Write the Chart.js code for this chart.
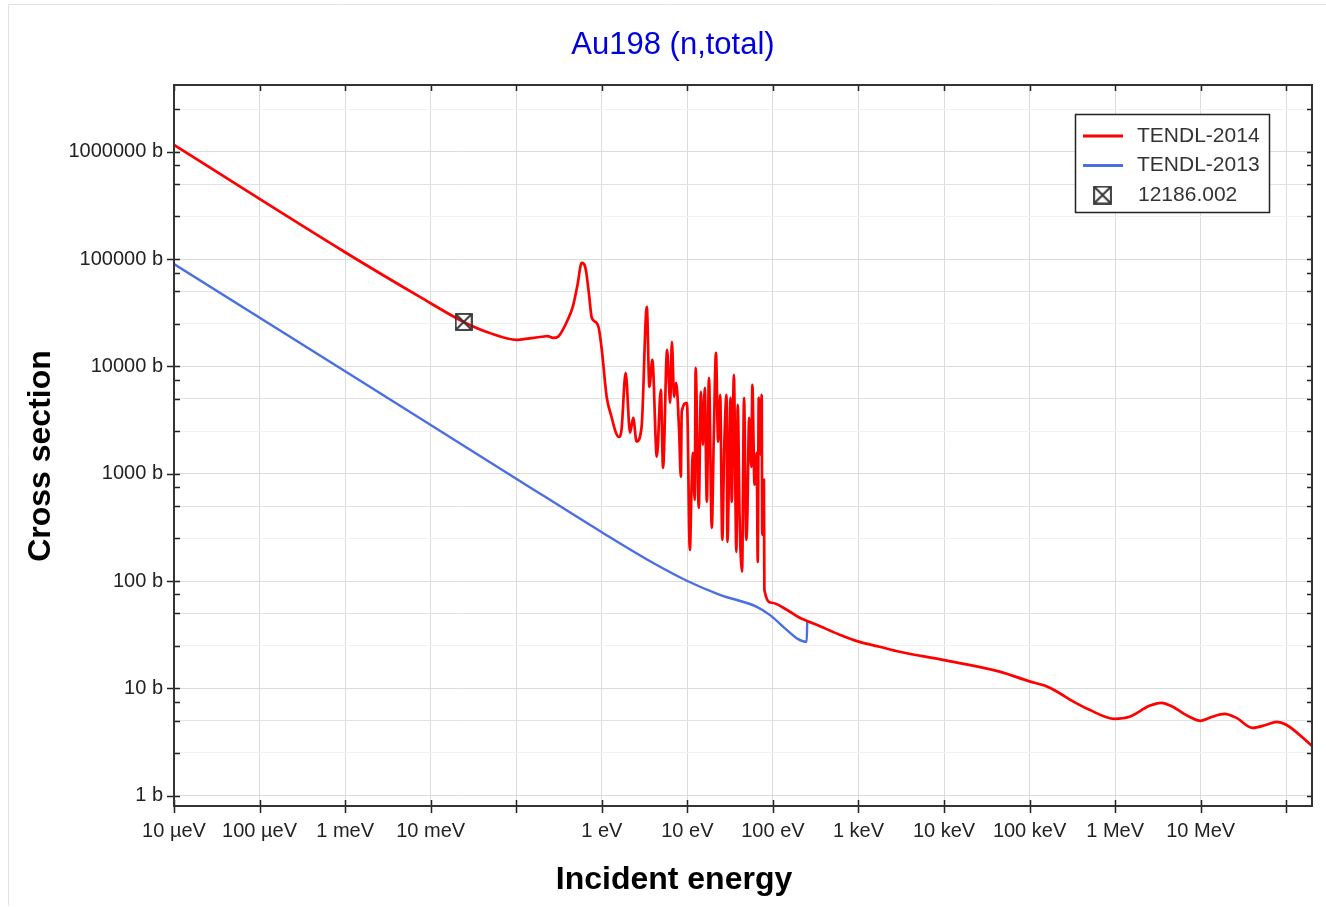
<!DOCTYPE html>
<html>
<head>
<meta charset="utf-8">
<title>Au198 (n,total)</title>
<script src="https://cdn.jsdelivr.net/npm/chart.js@4.4.1/dist/chart.umd.min.js"></script>
<style>
  html, body { margin: 0; padding: 0; background: #fff; }
  #wrap { width: 1326px; height: 907px; }
</style>
</head>
<body>
<div id="wrap"><canvas id="xsChart" width="1326" height="907"></canvas></div>
<script>
// TENDL-2014 total cross section: energy (eV) / sigma (b)
const tendl2014Energy = [
  1e-5, 1e-3, 0.00748, 0.0243, 0.049, 0.1016, 0.144, 0.199, 0.233, 0.27, 0.31, 0.35, 0.40, 0.458, 0.52,
  0.583, 0.63, 0.66, 0.71, 0.764, 0.87, 0.92, 1.0, 1.14, 1.3, 1.45, 1.58, 1.7, 1.9, 2.14, 2.33, 2.55,
  2.92, 3.36, 3.6, 3.9, 4.4, 4.9, 5.2, 5.8, 6.3, 6.6, 7.0, 7.4, 8.0, 8.4, 8.6, 9.9,
  10.7, 11.2, 11.6, 12.2, 12.5, 13.6, 14.4, 15.2, 16.0, 16.9, 17.9, 19.3, 20.4, 21.6, 22.9, 24.2,
  25.6, 27.0, 28.7, 29.4, 32.0, 33.0, 35.0, 37.4, 38.8, 40.9, 43.6, 46.0, 48.8, 50.1, 52.8, 56,
  57.5, 61, 64.7, 66.5, 68.3, 70, 71.9, 74, 75, 76.5, 78.5, 79.5,
  96.9, 145, 206, 325, 603, 1030, 1770, 3030, 9640, 44700, 1e5, 1.5e5, 2.2e5, 3e5, 5.02e5, 9.84e5,
  1.47e6, 2.52e6, 3.48e6, 4.69e6, 7.4e6, 1e7, 1.36e7, 1.9e7, 2.62e7, 4.03e7, 5.87e7, 7.69e7, 1e8, 2e8
];
const tendl2014Xs = [
  1.16e6, 1.16e5, 44500, 26000, 20500, 17700, 18300, 18900, 19200, 18500, 19000, 21900, 27200, 35900, 57500,
  92500, 88000, 74500, 46500, 28400, 25500, 22900, 14300, 5220, 3390, 2460, 2200, 2570, 8720, 2420, 3320, 1990,
  2740, 35900, 6460, 11500, 1440, 6060, 1135, 14300, 4580, 16950, 5220, 7040, 2570, 935, 3780, 4580,
  195, 740, 1565, 570, 9700, 481, 5800, 1860, 6320, 547, 7830, 313, 2300, 13400, 1990, 5430,
  242, 1780, 5430, 232, 5100, 547, 8350, 187, 4390, 356, 122, 5100, 242, 356, 3320, 1160,
  6740, 790, 1565, 151, 5100, 3700, 1500, 5430, 270, 610, 877, 82.8,
  62.7, 54, 45.4, 39.1, 31.6, 27.1, 24.4, 21.9, 18.4, 14.3, 11.6, 10.6, 9.1, 7.8, 6.3, 5.2,
  5.43, 6.87, 7.33, 6.73, 5.43, 4.98, 5.43, 5.78, 5.3, 4.28, 4.58, 4.87, 4.58, 2.91
];

// TENDL-2013 total cross section
const tendl2013Energy = [1e-5, 1e-3, 0.1, 1, 4, 10, 24, 64.7, 91.8, 145, 195, 248, 252];
const tendl2013Xs = [90000, 9000, 900, 285, 147, 100, 74.4, 57.5, 48.4, 35.1, 28.9, 27.1, 41.7];

// EXFOR point 12186.002
const exforEnergy = [0.0243];
const exforXs = [26000];

// axis ticks
const xTickValues = [1e-5, 1e-4, 1e-3, 1e-2, 1e-1, 1, 10, 100, 1e3, 1e4, 1e5, 1e6, 1e7, 1e8];
const xTickLabels = ['10 µeV', '100 µeV', '1 meV', '10 meV', '', '1 eV', '10 eV', '100 eV',
  '1 keV', '10 keV', '100 keV', '1 MeV', '10 MeV', ''];
const yDecades = [1, 10, 100, 1000, 10000, 100000, 1000000];
const yDecadeLabels = ['1 b', '10 b', '100 b', '1000 b', '10000 b', '100000 b', '1000000 b'];
const yMinorSteps = [2.5, 5, 7.5];

const X_MIN = 1e-5, X_MAX = 2e8, Y_MIN = 0.8, Y_MAX = 4.2e6;
const FONT = "'Liberation Sans', Arial, sans-serif";

function toPoints(xs, ys) {
  return xs.map((x, i) => ({ x: x, y: ys[i] }));
}

// boxed cross marker used for the experimental point
function boxCross(size) {
  const c = document.createElement('canvas');
  c.width = size; c.height = size;
  const g = c.getContext('2d');
  g.strokeStyle = '#333';
  g.lineWidth = 1.8;
  g.strokeRect(1, 1, size - 2, size - 2);
  g.beginPath();
  g.moveTo(2, 2); g.lineTo(size - 2, size - 2);
  g.moveTo(size - 2, 2); g.lineTo(2, size - 2);
  g.stroke();
  return c;
}
const markerImg = boxCross(18);

const yTickValues = [];
yDecades.forEach(d => {
  yTickValues.push(d);
  yMinorSteps.forEach(m => yTickValues.push(d * m));
});
const yTicksInRange = yTickValues.filter(v => v >= Y_MIN && v <= Y_MAX).sort((a, b) => a - b);

function mantissa(v) {
  return v / Math.pow(10, Math.floor(Math.log10(v) + 1e-9));
}

// titles, frame, tick marks on all four sides and the legend box
const framePlugin = {
  id: 'framePlugin',
  afterDraw(chart) {
    const { ctx, chartArea: a, scales } = chart;
    ctx.save();

    // outer light frame
    ctx.strokeStyle = '#e4e4e4';
    ctx.lineWidth = 1;
    ctx.beginPath();
    ctx.moveTo(8.5, 906); ctx.lineTo(8.5, 4.5); ctx.lineTo(1326, 4.5);
    ctx.stroke();

    // titles
    ctx.textAlign = 'center';
    ctx.textBaseline = 'middle';
    ctx.fillStyle = '#0000dd';
    ctx.font = '31px ' + FONT;
    ctx.fillText('Au198 (n,total)', 673, 45);
    ctx.fillStyle = '#000';
    ctx.font = 'bold 32px ' + FONT;
    ctx.fillText('Incident energy', 674, 880);
    ctx.save();
    ctx.translate(41, 456);
    ctx.rotate(-Math.PI / 2);
    ctx.fillText('Cross section', 0, 0);
    ctx.restore();

    ctx.strokeStyle = '#222';
    ctx.lineWidth = 1.5;
    xTickValues.forEach(v => {
      const px = Math.round(scales.x.getPixelForValue(v)) + 0.5;
      if (px < a.left || px > a.right) return;
      ctx.beginPath();
      ctx.moveTo(px, a.bottom - 6); ctx.lineTo(px, a.bottom + 7);
      ctx.moveTo(px, a.top); ctx.lineTo(px, a.top + 6);
      ctx.stroke();
    });
    yTicksInRange.forEach(v => {
      const py = Math.round(scales.y.getPixelForValue(v)) + 0.5;
      const major = Math.abs(mantissa(v) - 1) < 1e-6;
      ctx.beginPath();
      ctx.moveTo(major ? a.left - 7 : a.left, py); ctx.lineTo(a.left + 6, py);
      ctx.moveTo(a.right - 5, py); ctx.lineTo(a.right, py);
      ctx.stroke();
    });

    ctx.strokeStyle = '#333';
    ctx.lineWidth = 2;
    ctx.strokeRect(a.left, a.top, a.right - a.left, a.bottom - a.top);

    // legend
    const lx = 1075, ly = 114, lw = 194, lh = 98;
    ctx.fillStyle = '#fff';
    ctx.fillRect(lx, ly, lw, lh);
    ctx.strokeStyle = '#222';
    ctx.lineWidth = 1.5;
    ctx.strokeRect(lx + 0.5, ly + 0.5, lw, lh);
    ctx.font = '21px ' + FONT;
    ctx.textBaseline = 'middle';
    ctx.textAlign = 'left';
    const ds = chart.data.datasets;
    const rows = [ds[1], ds[2], ds[0]];
    rows.forEach((d, i) => {
      const cy = ly + 22 + i * 29.5;
      if (d.showLine === false) {
        ctx.drawImage(markerImg, lx + 18, cy - 9.5, 19, 19);
        ctx.fillStyle = '#333';
        ctx.fillText(d.label, lx + 63, cy);
      } else {
        ctx.strokeStyle = d.borderColor;
        ctx.lineWidth = 3;
        ctx.beginPath();
        ctx.moveTo(lx + 8, cy); ctx.lineTo(lx + 48, cy);
        ctx.stroke();
        ctx.fillStyle = '#333';
        ctx.fillText(d.label, lx + 62, cy);
      }
    });
    ctx.restore();
  }
};

new Chart(document.getElementById('xsChart'), {
  type: 'line',
  data: {
    datasets: [
      {
        label: '12186.002',
        data: toPoints(exforEnergy, exforXs),
        showLine: false,
        pointStyle: markerImg,
        pointRadius: 9,
        borderColor: '#333'
      },
      {
        label: 'TENDL-2014',
        data: toPoints(tendl2014Energy, tendl2014Xs),
        borderColor: '#ff0000',
        borderWidth: 2.7,
        pointRadius: 0,
        cubicInterpolationMode: 'monotone'
      },
      {
        label: 'TENDL-2013',
        data: toPoints(tendl2013Energy, tendl2013Xs),
        borderColor: '#4a6fe3',
        borderWidth: 2.4,
        pointRadius: 0,
        cubicInterpolationMode: 'monotone'
      }
    ]
  },
  options: {
    responsive: false,
    animation: false,
    parsing: false,
    layout: { padding: { top: 85, left: 0, right: 14, bottom: 0 } },
    scales: {
      x: {
        type: 'logarithmic',
        position: 'bottom',
        min: X_MIN,
        max: X_MAX,
        afterBuildTicks: axis => { axis.ticks = xTickValues.map(v => ({ value: v })); },
        afterFit: axis => { axis.height = 101; },
        ticks: {
          autoSkip: false,
          maxRotation: 0,
          minRotation: 0,
          padding: 13,
          color: '#222',
          font: { family: FONT, size: 20 },
          callback: (v, i) => xTickLabels[i]
        },
        grid: { color: '#dcdcdc', drawTicks: false },
        border: { display: false }
      },
      y: {
        type: 'logarithmic',
        min: Y_MIN,
        max: Y_MAX,
        afterBuildTicks: axis => { axis.ticks = yTicksInRange.map(v => ({ value: v })); },
        afterFit: axis => { axis.width = 174; },
        ticks: {
          autoSkip: false,
          padding: 11,
          color: '#222',
          font: { family: FONT, size: 20 },
          callback: v => {
            const i = yDecades.findIndex(d => Math.abs(d - v) < d * 1e-6);
            return i >= 0 ? yDecadeLabels[i] : '';
          }
        },
        grid: {
          drawTicks: false,
          color: c => {
            const m = mantissa(c.tick.value);
            if (Math.abs(m - 1) < 1e-6) return '#dcdcdc';
            if (Math.abs(m - 5) < 1e-6) return '#e2e2e2';
            if (Math.abs(m - 2.5) < 1e-6) return '#f0f0f0';
            return 'rgba(0,0,0,0)';
          }
        },
        border: { display: false }
      }
    },
    plugins: {
      legend: { display: false },
      tooltip: { enabled: false },
      title: { display: false }
    }
  },
  plugins: [framePlugin]
});
</script>
</body>
</html>
